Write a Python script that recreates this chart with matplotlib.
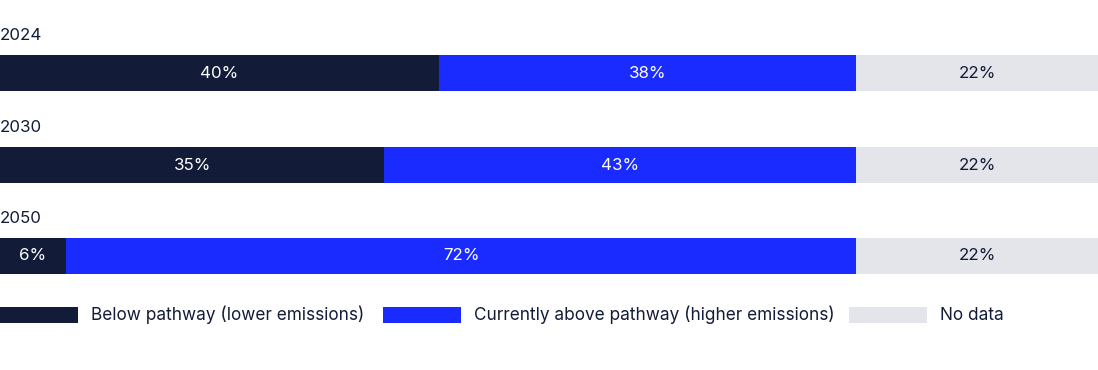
import matplotlib.pyplot as plt
from matplotlib.patches import Rectangle

plt.rcParams['font.family'] = ['Inter', 'DejaVu Sans']

years = ['2024', '2030', '2050']
below = [40, 35, 6]
above = [38, 43, 72]
no_data = [22, 22, 22]

series_names = ['Below pathway (lower emissions)',
                'Currently above pathway (higher emissions)',
                'No data']
colors = ['#121c38', '#1a2bff', '#e4e5ea']
text_colors = ['white', 'white', '#121c38']

fig = plt.figure(figsize=(10.98, 3.70), dpi=100)
ax = fig.add_axes([0, 0, 1, 1])
ax.set_xlim(0, 100)
ax.set_ylim(370, 0)
ax.axis('off')

ypos = [73, 165, 256]
bar_h = 36

left = [0, 0, 0]
for vals, col, tcol in zip([below, above, no_data], colors, text_colors):
    ax.barh(ypos, vals, left=left, height=bar_h, color=col, linewidth=0)
    for y, l, v in zip(ypos, left, vals):
        ax.text(l + v / 2, y, f'{v}%', ha='center', va='center',
                color=tcol, fontsize=12.2)
    left = [a + b for a, b in zip(left, vals)]

for y, yr in zip(ypos, years):
    ax.text(0, y - bar_h / 2 - 19.5, yr, ha='left', va='center',
            color='#121c38', fontsize=12.2)

# legend
leg_x = [0, 383 / 10.98, 849 / 10.98]
for x, name, col in zip(leg_x, series_names, colors):
    ax.add_patch(Rectangle((x, 307), 78 / 10.98, 16, color=col, lw=0))
    ax.text(x + 91 / 10.98, 315, name, ha='left', va='center',
            color='#121c38', fontsize=12.4)

fig.savefig('out.png', dpi=100)
